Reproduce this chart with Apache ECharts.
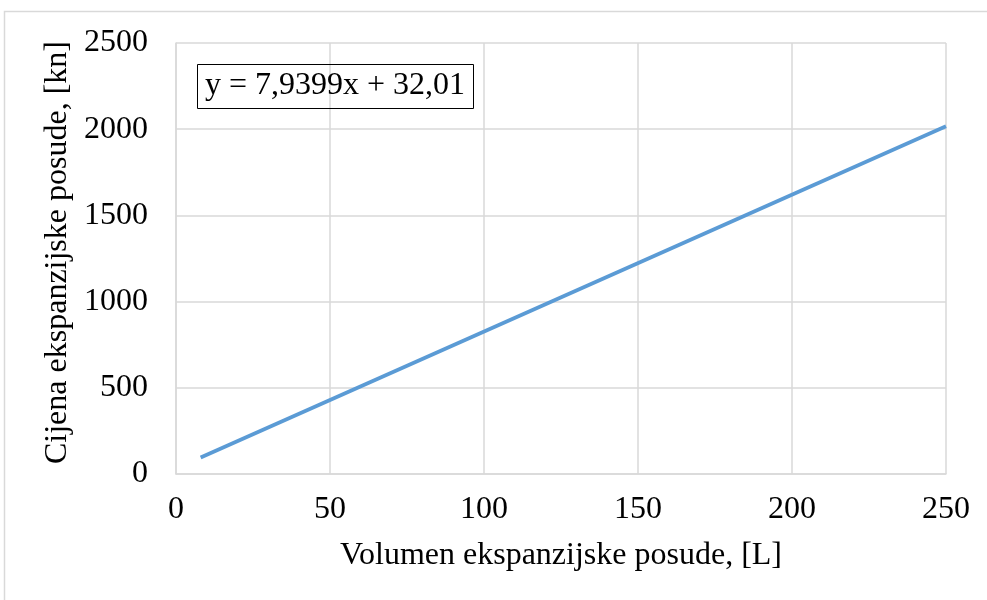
<!DOCTYPE html>
<html>
<head>
<meta charset="utf-8">
<script src="https://cdn.jsdelivr.net/npm/echarts@6/dist/echarts.min.js"></script>
<style>
  html, body { margin: 0; padding: 0; background: #fff; }
  #chart { width: 987px; height: 600px; }
</style>
</head>
<body>
<div id="chart"></div>
<script>
// volumen [L] vs cijena [kn]
const volumen = [8, 250];
const cijena = [95.5, 2017];
const xTicks = [0, 50, 100, 150, 200, 250];
const yTicks = [0, 500, 1000, 1500, 2000, 2500];
const jednadzba = 'y = 7,9399x + 32,01';

const font = '"Liberation Serif", "Times New Roman", serif';
const chart = echarts.init(document.getElementById('chart'));

const option = {
  animation: false,
  backgroundColor: '#fff',
  grid: { left: 176, right: 41, top: 43, bottom: 126 },
  title: {
    text: jednadzba,
    left: 197,
    top: 64,
    borderColor: '#000',
    borderWidth: 1,
    padding: [6, 9, 7, 8],
    textStyle: { fontFamily: font, fontSize: 32, fontWeight: 'normal', color: '#000' }
  },
  graphic: [{
    type: 'rect',
    silent: true,
    shape: { x: 4.5, y: 11.5, width: 1100, height: 800 },
    style: { fill: 'none', stroke: '#d9d9d9', lineWidth: 1.5 }
  }],
  xAxis: {
    type: 'value',
    min: xTicks[0],
    max: xTicks[xTicks.length - 1],
    interval: 50,
    name: 'Volumen ekspanzijske posude, [L]',
    nameLocation: 'middle',
    nameGap: 66,
    nameTextStyle: { fontFamily: font, fontSize: 32, color: '#000' },
    axisLine: { show: true, lineStyle: { color: '#d9d9d9', width: 1.5 } },
    axisTick: { show: false },
    axisLabel: { fontFamily: font, fontSize: 32, color: '#000', margin: 20 },
    splitLine: { show: true, lineStyle: { color: '#d9d9d9', width: 1.5 } }
  },
  yAxis: {
    type: 'value',
    min: yTicks[0],
    max: yTicks[yTicks.length - 1],
    interval: 500,
    name: 'Cijena ekspanzijske posude, [kn]',
    nameLocation: 'middle',
    nameGap: 90,
    nameTextStyle: { fontFamily: font, fontSize: 32, color: '#000', padding: [0, 0, 0, 12] },
    axisLine: { show: true, lineStyle: { color: '#d9d9d9', width: 1.5 } },
    axisTick: { show: false },
    axisLabel: { fontFamily: font, fontSize: 32, color: '#000', margin: 28, formatter: v => String(v) },
    splitLine: { show: true, lineStyle: { color: '#d9d9d9', width: 1.5 } }
  },
  series: [{
    type: 'line',
    data: volumen.map((v, i) => [v, cijena[i]]),
    showSymbol: false,
    lineStyle: { color: '#5b9bd5', width: 3.8 },
    itemStyle: { color: '#5b9bd5' }
  }]
};

chart.setOption(option);
</script>
</body>
</html>
